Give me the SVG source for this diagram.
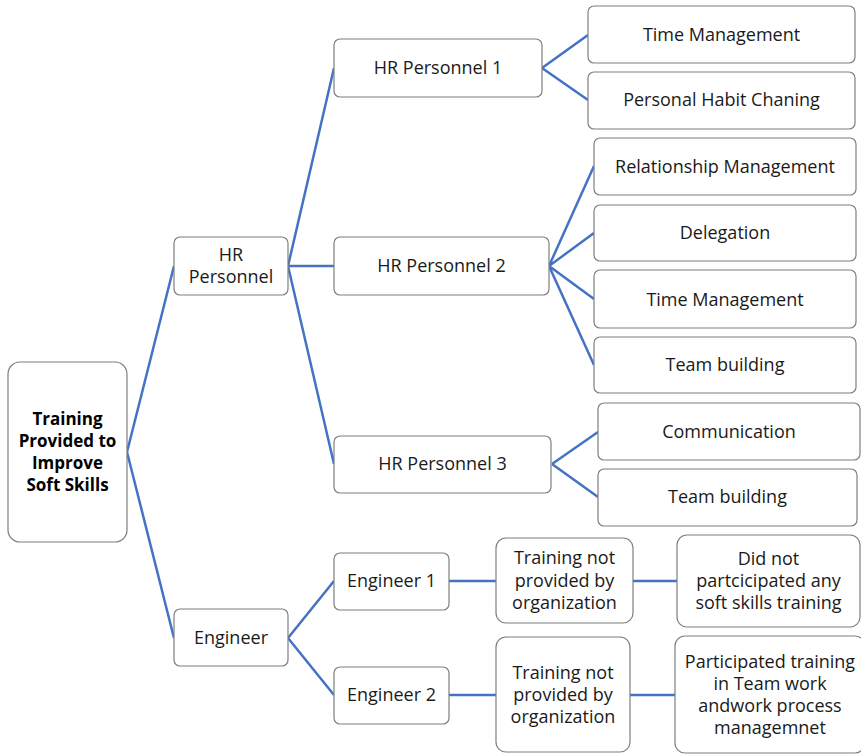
<svg xmlns="http://www.w3.org/2000/svg" width="861" height="754" viewBox="0 0 861 754">
<style>
.box{fill:#fff;stroke:#7f7f7f;stroke-width:1.2}
.t{font-family:"Open Sans","Liberation Sans",sans-serif;font-size:18px;fill:#1a1a1a;text-anchor:middle;dominant-baseline:central}
.b{font-weight:bold;fill:#000;font-size:17px}
.c{fill:none;stroke:#4472c4;stroke-width:2.5}
</style>
<rect width="861" height="754" fill="#fff"/>
<g id="connectors">
<path class="c" d="M127 452 L174 266 M127 452 L174 638"/>
<path class="c" d="M288 266 L334 68 M288 266 L334 266 M288 266 L334 464"/>
<path class="c" d="M542 68 L588 35 M542 68 L588 100"/>
<path class="c" d="M549 266 L594 166 M549 266 L594 233 M549 266 L594 299 M549 266 L594 365"/>
<path class="c" d="M552 464 L598 432 M552 464 L598 497"/>
<path class="c" d="M288 638 L334 581 M288 638 L334 695"/>
<path class="c" d="M449 581 L496 581 M633 581 L677 581"/>
<path class="c" d="M449 695 L496 695 M630 695 L675 695"/>
</g>
<g id="root"><rect class="box" x="8" y="362" width="119" height="180" rx="12"/>
<text class="t b" x="67.5" y="418">Training</text><text class="t b" x="67.5" y="440">Provided to</text><text class="t b" x="67.5" y="462">Improve</text><text class="t b" x="67.5" y="484">Soft Skills</text></g>
<g id="hr"><rect class="box" x="174" y="237" width="114" height="58" rx="6"/>
<text class="t" x="231" y="254">HR</text><text class="t" x="231" y="276">Personnel</text></g>
<g id="engineer"><rect class="box" x="174" y="609" width="114" height="57" rx="6"/>
<text class="t" x="231" y="637">Engineer</text></g>
<g id="hr1"><rect class="box" x="334" y="39" width="208" height="58" rx="6"/><text class="t" x="438" y="67">HR Personnel 1</text></g>
<g id="hr2"><rect class="box" x="334" y="237" width="215" height="58" rx="6"/><text class="t" x="441.5" y="265">HR Personnel 2</text></g>
<g id="hr3"><rect class="box" x="334" y="436" width="217" height="57" rx="6"/><text class="t" x="442.5" y="463">HR Personnel 3</text></g>
<g id="hr1-time"><rect class="box" x="588" y="6" width="267" height="57" rx="6"/><text class="t" x="721.5" y="34">Time Management</text></g>
<g id="hr1-habit"><rect class="box" x="588" y="72" width="267" height="57" rx="6"/><text class="t" x="721.5" y="99">Personal Habit Chaning</text></g>
<g id="hr2-rel"><rect class="box" x="594" y="138" width="262" height="57" rx="6"/><text class="t" x="725" y="166">Relationship Management</text></g>
<g id="hr2-del"><rect class="box" x="594" y="205" width="262" height="56" rx="6"/><text class="t" x="725" y="232">Delegation</text></g>
<g id="hr2-time"><rect class="box" x="594" y="270" width="262" height="58" rx="6"/><text class="t" x="725" y="299">Time Management</text></g>
<g id="hr2-team"><rect class="box" x="594" y="337" width="262" height="56" rx="6"/><text class="t" x="725" y="364">Team building</text></g>
<g id="hr3-comm"><rect class="box" x="598" y="403" width="262" height="57" rx="6"/><text class="t" x="729" y="431">Communication</text></g>
<g id="hr3-team"><rect class="box" x="598" y="469" width="259" height="57" rx="6"/><text class="t" x="727.5" y="496">Team building</text></g>
<g id="eng1"><rect class="box" x="334" y="553" width="115" height="57" rx="6"/><text class="t" x="391.5" y="580">Engineer 1</text></g>
<g id="eng2"><rect class="box" x="334" y="667" width="115" height="57" rx="6"/><text class="t" x="391.5" y="694">Engineer 2</text></g>
<g id="eng1-tr"><rect class="box" x="496" y="538" width="137" height="85" rx="10"/>
<text class="t" x="564.5" y="557">Training not</text><text class="t" x="564.5" y="580">provided by</text><text class="t" x="564.5" y="602">organization</text></g>
<g id="eng2-tr"><rect class="box" x="496" y="637" width="134" height="115" rx="10"/>
<text class="t" x="563" y="672">Training not</text><text class="t" x="563" y="694">provided by</text><text class="t" x="563" y="716">organization</text></g>
<g id="eng1-res"><rect class="box" x="677" y="535" width="183" height="92" rx="10"/>
<text class="t" x="768.5" y="558">Did not</text><text class="t" x="768.5" y="580">partcicipated any</text><text class="t" x="768.5" y="602">soft skills training</text></g>
<g id="eng2-res"><rect class="box" x="675" y="636" width="190" height="117" rx="10"/>
<text class="t" x="770" y="661">Participated training</text><text class="t" x="770" y="683">in Team work</text><text class="t" x="770" y="705">andwork process</text><text class="t" x="770" y="727">managemnet</text></g>
</svg>
